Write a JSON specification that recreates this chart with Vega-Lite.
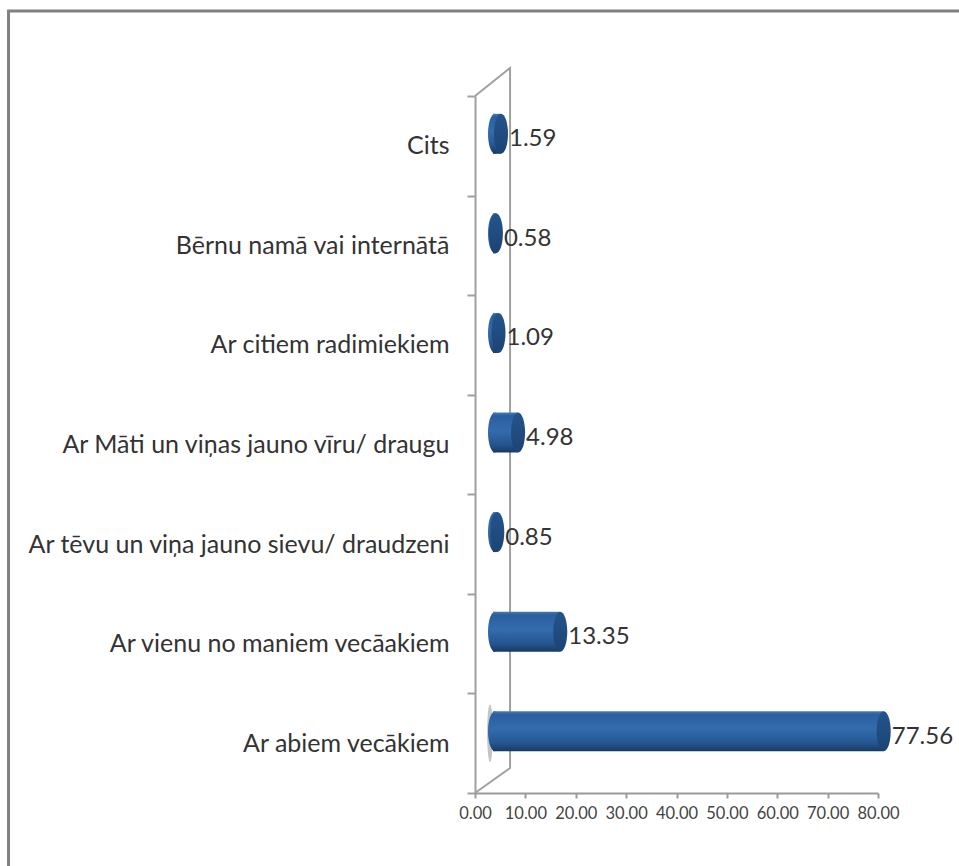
{
"$schema":"https://vega.github.io/schema/vega-lite/v6.json",
"width":403,"height":697,
"autosize":{"type":"none"},
"padding":{"left":475,"top":96,"right":81,"bottom":73},
"background":"#ffffff",
"config":{"view":{"stroke":null},"font":"Lato"},
"datasets":{
"rows":[
{"category":"Cits","value":1.59},
{"category":"Bērnu namā vai internātā","value":0.58},
{"category":"Ar citiem radimiekiem","value":1.09},
{"category":"Ar Māti un viņas jauno vīru/ draugu","value":4.98},
{"category":"Ar tēvu un viņa jauno sievu/ draudzeni","value":0.85},
{"category":"Ar vienu no maniem vecāakiem","value":13.35},
{"category":"Ar abiem vecākiem","value":77.56}
],
"wall":[
{"wx":0,"wy":697,"o":1},
{"wx":6.96,"wy":725,"o":2},
{"wx":6.96,"wy":25,"o":3},
{"wx":0,"wy":0,"o":4}
],
"frame":[
{"wx":-92.6,"wy":-73,"o":1},
{"wx":-92.6,"wy":782,"o":2},
{"wx":96.3,"wy":782,"o":3}
]
},
"encoding":{"x":{"field":"value","type":"quantitative","scale":{"domain":[0,80],"nice":false,"zero":true},
"axis":{"values":[0,10,20,30,40,50,60,70,80],"format":".2f","title":null,"grid":false,"domain":true,"domainColor":"#9a9a9a","domainWidth":2,"tickColor":"#9a9a9a","tickSize":5,"tickWidth":2,"labelFontSize":16.5,"labelColor":"#444444","labelPadding":7,"labelFlush":false}}},
"layer":[
{"data":{"name":"frame"},"mark":{"type":"line","stroke":"#808080","strokeWidth":3,"clip":false},
 "encoding":{"x":{"field":"wx","type":"quantitative"},"y":{"field":"wy","type":"quantitative","scale":{"domain":[0,697],"nice":false,"zero":false},"axis":null},"order":{"field":"o","type":"quantitative"}}},
{"data":{"name":"wall"},"mark":{"type":"line","stroke":"#a0a0a0","strokeWidth":2,"clip":false},
 "encoding":{"x":{"field":"wx","type":"quantitative"},"y":{"field":"wy","type":"quantitative","scale":{"domain":[0,697],"nice":false,"zero":false},"axis":null},"order":{"field":"o","type":"quantitative"}}},
{"data":{"name":"rows"},
 "encoding":{"y":{"field":"category","type":"nominal","sort":["Cits","Bērnu namā vai internātā","Ar citiem radimiekiem","Ar Māti un viņas jauno vīru/ draugu","Ar tēvu un viņa jauno sievu/ draudzeni","Ar vienu no maniem vecāakiem","Ar abiem vecākiem"],"scale":{"paddingInner":0,"paddingOuter":0},
  "axis":{"title":null,"domain":true,"domainColor":"#a0a0a0","domainWidth":2,"tickBand":"extent","tickColor":"#a0a0a0","tickWidth":2,"tickSize":8,"labelFontSize":25,"labelColor":"#333333","labelPadding":18,"labelLimit":460,"grid":false}}},
 "layer":[
  {"transform":[{"filter":"datum.value > 50"}],
   "mark":{"type":"point","filled":true,"shape":"M 0 -1 A 0.1 1 0 1 1 0 1 A 0.1 1 0 1 1 0 -1 Z","size":3300,"xOffset":15,"yOffset":-10,"color":"#c4c4c4","opacity":1},
   "encoding":{"x":{"datum":0,"type":"quantitative"}}},
  {"mark":{"type":"bar","height":40,"xOffset":18,"yOffset":-12,"stroke":null,
    "color":{"gradient":"linear","x1":0,"y1":0,"x2":0,"y2":1,"stops":[{"offset":0,"color":"#4a7ab5"},{"offset":0.08,"color":"#2a5f9f"},{"offset":0.45,"color":"#336cae"},{"offset":0.8,"color":"#25558f"},{"offset":1,"color":"#173a63"}]}}},
  {"mark":{"type":"point","filled":true,"opacity":1,"shape":"M 0 -1 A 0.35 1 0 1 1 0 1 A 0.35 1 0 1 1 0 -1 Z","size":1600,"xOffset":20,"yOffset":-12,
    "color":{"gradient":"linear","x1":0,"y1":0,"x2":0,"y2":1,"stops":[{"offset":0,"color":"#4a7ab5"},{"offset":0.08,"color":"#2a5f9f"},{"offset":0.45,"color":"#336cae"},{"offset":0.8,"color":"#25558f"},{"offset":1,"color":"#173a63"}]}},
   "encoding":{"x":{"datum":0,"type":"quantitative"}}},
  {"mark":{"type":"point","filled":true,"opacity":1,"shape":"M 0 -1 A 0.35 1 0 1 1 0 1 A 0.35 1 0 1 1 0 -1 Z","size":1600,"xOffset":18,"yOffset":-12,
    "color":{"gradient":"linear","x1":0,"y1":0,"x2":0,"y2":1,"stops":[{"offset":0,"color":"#24548c"},{"offset":1,"color":"#1c4474"}]}}},
  {"mark":{"type":"text","align":"left","baseline":"middle","xOffset":26,"yOffset":-6.5,"fontSize":24,"color":"#333333"},
   "encoding":{"text":{"field":"value","type":"quantitative","format":".2f"}}}
 ]}
],
"resolve":{"scale":{"y":"independent"}}
}
